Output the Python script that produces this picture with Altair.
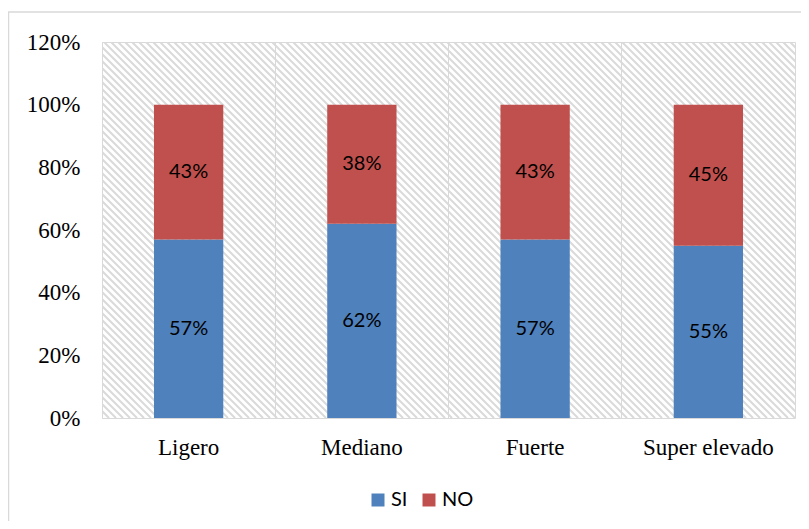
import altair as alt
import pandas as pd

categories = ["Ligero", "Mediano", "Fuerte", "Super elevado"]
si = [0.57, 0.62, 0.57, 0.55]
no = [0.43, 0.38, 0.43, 0.45]
series = ["SI", "NO"]
colors = ["#4F81BD", "#C0504D"]
y_ticks = [0, 0.2, 0.4, 0.6, 0.8, 1.0, 1.2]

rows = []
for i, c in enumerate(categories):
    rows.append({"cat": c, "serie": "SI", "val": si[i], "ord": 0})
    rows.append({"cat": c, "serie": "NO", "val": no[i], "ord": 1})
df = pd.DataFrame(rows)

W, H = 693, 376
SERIF = "Liberation Serif"
SANS = "Lato"

xenc = alt.X(
    "cat:N", sort=categories,
    scale=alt.Scale(paddingInner=0, paddingOuter=0),
    axis=alt.Axis(title=None, labelAngle=0, grid=True, bandPosition=0, labelPadding=18),
)
yscale = alt.Scale(domain=[0, 1.2], nice=False)

bars = alt.Chart(df).mark_bar(width=alt.RelativeBandSize(0.4)).encode(
    x=xenc,
    y=alt.Y("val:Q", stack="zero", scale=yscale,
            axis=alt.Axis(title=None, values=y_ticks, format=".0%", labelPadding=22)),
    color=alt.Color("serie:N", sort=series,
                    scale=alt.Scale(domain=series, range=colors),
                    legend=alt.Legend(title=None, orient="none", legendX=266, legendY=448,
                                      direction="horizontal", symbolType="square",
                                      symbolSize=169, symbolStrokeWidth=0,
                                      labelFont=SANS, labelFontSize=20, labelColor="#000",
                                      labelOffset=3, columnPadding=11, padding=0)),
    order=alt.Order("ord:Q"),
)

text = alt.Chart(df).transform_stack(
    stack="val", groupby=["cat"], sort=[alt.SortField("ord")], as_=["v0", "v1"]
).transform_calculate(
    mid="(datum.v0 + datum.v1) / 2"
).mark_text(font=SANS, fontSize=20, color="#000").encode(
    x=alt.X("cat:N", sort=categories),
    y=alt.Y("mid:Q", scale=yscale),
    text=alt.Text("val:Q", format=".0%"),
)

main = alt.layer(bars, text)

hatch = alt.Chart(alt.sequence(-H, W + 7, 7, as_="h")).transform_calculate(
    xa="datum.h", xb=f"datum.h + {H}", ya=f"{H}", yb="0"
).mark_rule(clip=True, strokeWidth=2, color="#dadada").encode(
    x=alt.X("xa:Q", scale=alt.Scale(domain=[0, W], nice=False, zero=False), axis=None),
    x2="xb:Q",
    y=alt.Y("ya:Q", scale=alt.Scale(domain=[0, H], nice=False), axis=None),
    y2="yb:Q",
)

border = alt.Chart(pd.DataFrame({"b": [0]})).mark_rect(
    fillOpacity=0, stroke="#d9d9d9", strokeWidth=1.5
).encode(x=alt.value(-93.5), x2=alt.value(2000), y=alt.value(-30), y2=alt.value(2000))

chart = alt.layer(border, hatch, main).resolve_scale(
    x="independent", y="independent"
).properties(
    width=W, height=H,
    padding={"left": 94, "top": 34, "right": 6, "bottom": 103},
    autosize=alt.AutoSizeParams(type="none"),
).configure_view(
    stroke="#d9d9d9", strokeWidth=1
).configure_axis(
    labelFont=SERIF, labelFontSize=23, labelColor="#000", domain=False,
    ticks=False, tickSize=0, gridColor="#d9d9d9", gridWidth=1,
)

chart.save("out.html", embed_options={"renderer": "svg", "actions": False})
